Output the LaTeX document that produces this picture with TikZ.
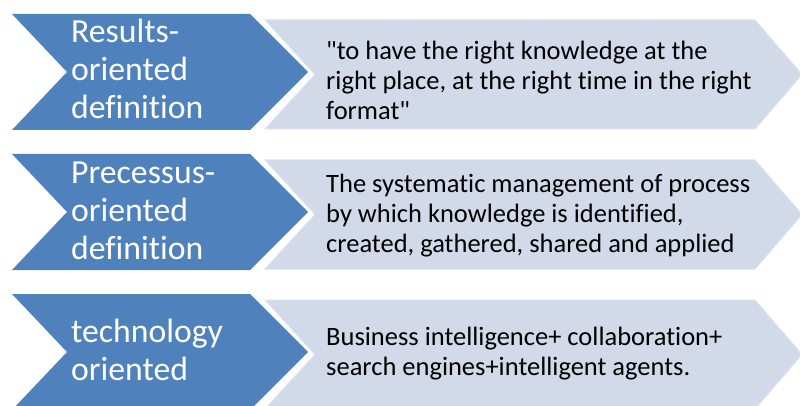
\documentclass[tikz,border=0pt]{standalone}
\usepackage{fontspec}
\setmainfont{Carlito}[Ligatures={CommonOff,TeXOff}]
\definecolor{chevblue}{HTML}{4F81BD}
\definecolor{panelfill}{HTML}{D2D9E9}
\definecolor{panelrim}{HTML}{DDE2EE}
\begin{document}
\begin{tikzpicture}[x=1pt,y=-1pt,
  chevron/.style={fill=chevblue,draw=none},
  panel/.style={fill=panelfill,draw=panelrim,line width=1pt},
  % multi-line nodes are placed by the baseline of their last line
  headtext/.style={anchor=base west,inner sep=0pt,align=left,text=white,
    font=\fontsize{33.7}{38}\selectfont},
  bodytext/.style={anchor=base west,inner sep=0pt,align=left,text=black,
    font=\fontsize{26.5}{30}\selectfont}]
\useasboundingbox (0,0) rectangle (800,406);
\fill[white] (0,0) rectangle (800,406);

% one row: light panel behind, blue chevron in front; #1 = top edge
\newcommand{\chevronrow}[1]{%
  \draw[panel] (265,#1+6) -- (755,#1+6) -- (802,#1+60.5) -- (755,#1+115)
    -- (265,#1+115) -- (315,#1+60.5) -- cycle;
  \fill[chevron] (12,#1) -- (250,#1) -- (308,#1+58) -- (250,#1+116)
    -- (12,#1+116) -- (67,#1+58) -- cycle;
}

\chevronrow{14}
\chevronrow{154}
\chevronrow{294}

\node[headtext] (h1) at (71,119) {Results-\\oriented\\definition};
\node[bodytext] (b1) at (326,120) {"to have the right knowledge at the\\right place, at the right time in the right\\format"};

\node[headtext] (h2) at (71,259) {Precessus-\\oriented\\definition};
\node[bodytext] (b2) at (326,252) {The systematic management of process\\by which knowledge is identified,\\created, gathered, shared and applied};

\node[headtext] (h3) at (71,380) {technology\\oriented};
\node[bodytext] (b3) at (326,375) {Business intelligence+ collaboration+\\search engines+intelligent agents.};
\end{tikzpicture}
\end{document}
